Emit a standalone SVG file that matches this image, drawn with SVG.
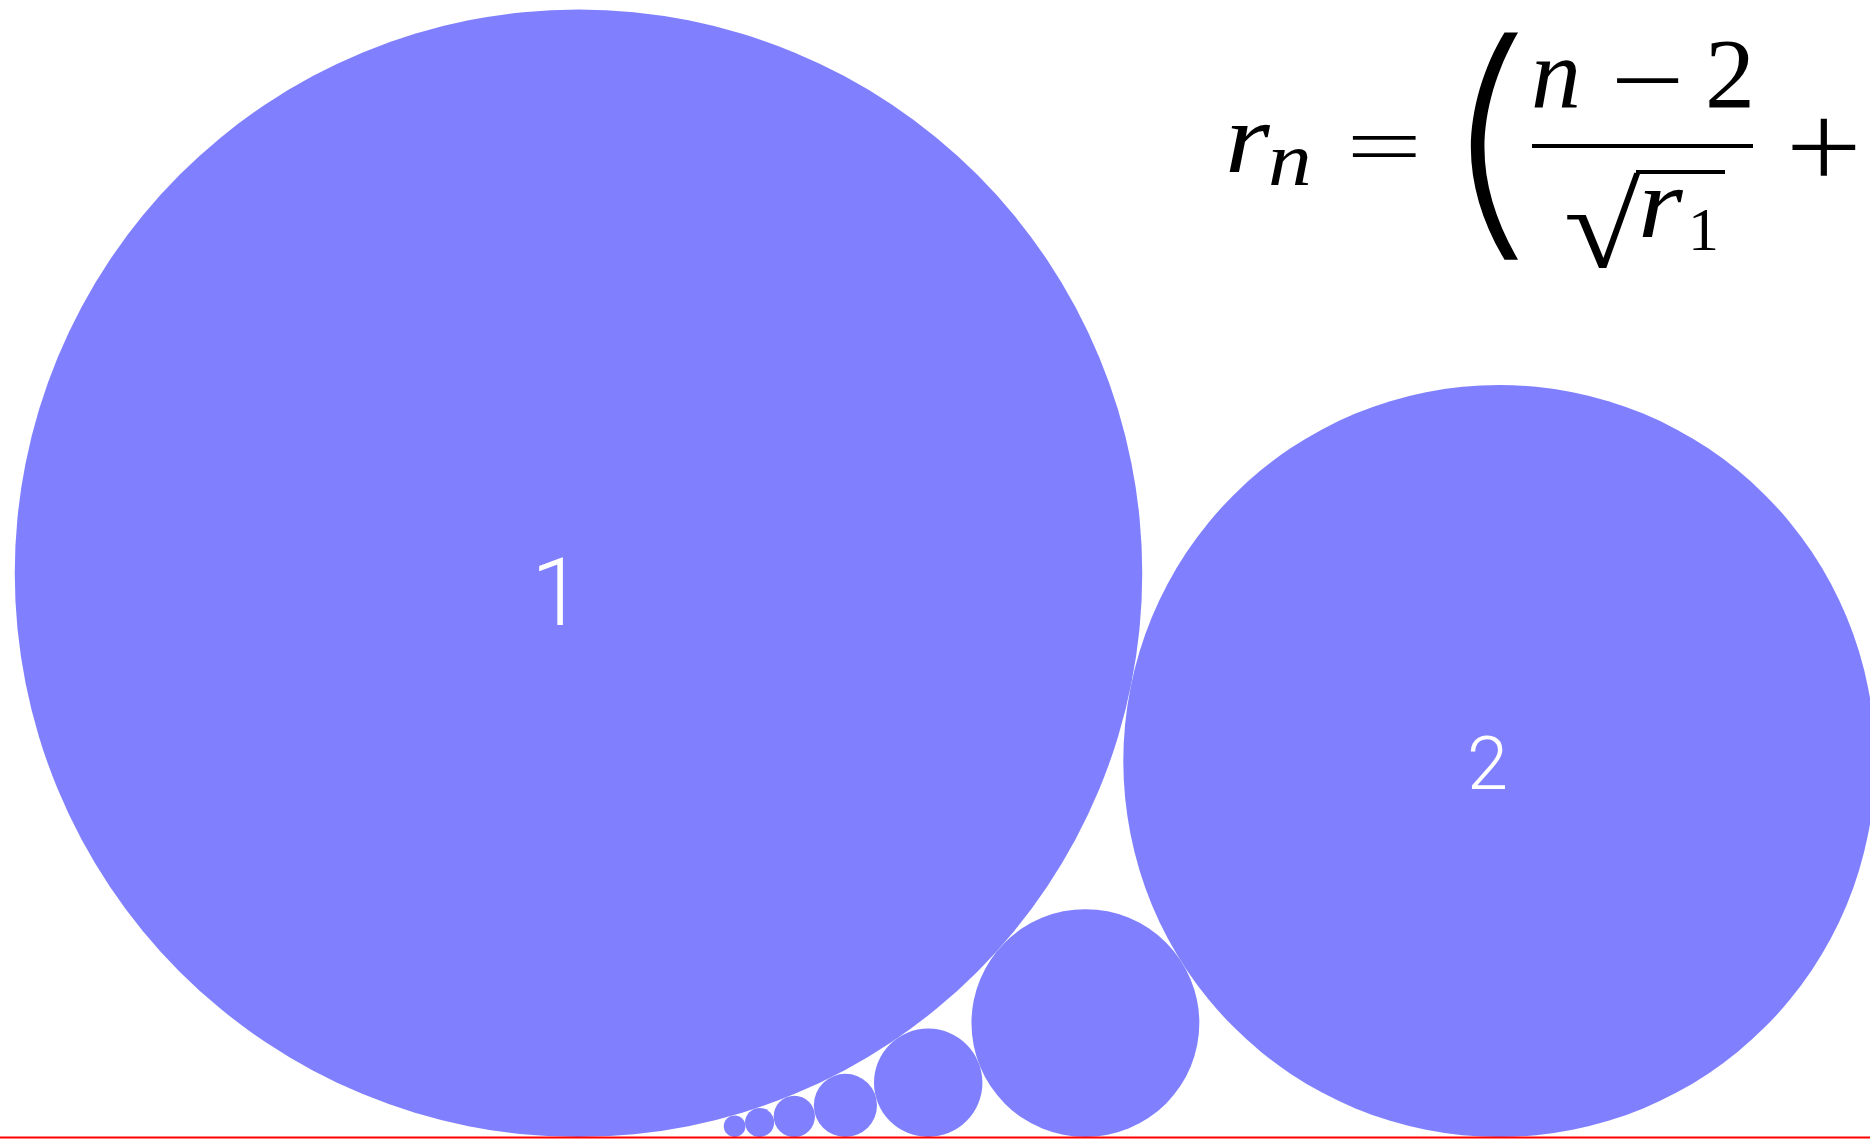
<svg xmlns="http://www.w3.org/2000/svg" width="1870" height="1139" viewBox="0 0 1870 1139">
  <style>
    .c { fill: #8080ff; }
    .lbl { fill: #ffffff; font-family: Roboto, "Liberation Sans", sans-serif; font-weight: 300; }
    .m { fill: #000000; font-family: "Liberation Serif", "DejaVu Serif", serif; }
    .mi { font-style: italic; }
    .op { fill: #000000; font-family: Inter, Roboto, sans-serif; font-weight: 200; }
  </style>
  <rect width="1870" height="1139" fill="#ffffff"/>
  <g id="circle-1">
    <circle class="c" cx="578.5" cy="573.25" r="563.75"/>
    <text class="lbl" x="531" y="625" font-size="94">1</text>
  </g>
  <g id="circle-2">
    <circle class="c" cx="1499.3" cy="761" r="376"/>
    <text class="lbl" x="1467" y="789" font-size="74">2</text>
  </g>
  <g id="circle-3"><circle class="c" cx="1085.4" cy="1023.07" r="113.93"/></g>
  <g id="circle-4"><circle class="c" cx="928.2" cy="1082.78" r="54.22"/></g>
  <g id="circle-5"><circle class="c" cx="845.4" cy="1105.41" r="31.59"/></g>
  <g id="circle-6"><circle class="c" cx="794.3" cy="1116.35" r="20.65"/></g>
  <g id="circle-7"><circle class="c" cx="759.6" cy="1122.45" r="14.55"/></g>
  <g id="circle-8"><circle class="c" cx="734.6" cy="1126.2" r="10.8"/></g>
  <g id="connectors">
    <line x1="0" y1="1137.5" x2="1870" y2="1137.5" stroke="#ff0000" stroke-width="2"/>
  </g>
  <g id="formula">
    <text class="m mi" transform="translate(1225,172) scale(1.15,1)" font-size="100">r</text>
    <text class="m mi" transform="translate(1268,185) scale(1.15,1)" font-size="76">n</text>
    <text class="op" transform="translate(1330,171.7) scale(1.87,1)" font-size="90">=</text>
    <text class="op" transform="translate(1437,225.5) scale(3.0,2.5)" font-size="100">(</text>
    <text class="m mi" x="1531" y="107" font-size="100">n</text>
    <text class="op" transform="translate(1601.4,112) scale(1.3,1)" font-size="110">−</text>
    <text class="m" x="1705" y="107" font-size="100">2</text>
    <rect x="1532" y="144" width="221" height="4" fill="#000"/>
    <text class="m" transform="translate(1563.8,267) scale(1.4,1.195)" font-size="100">√</text>
    <rect x="1636" y="170" width="89" height="4" fill="#000"/>
    <text class="m mi" transform="translate(1638,237) scale(1.15,1)" font-size="100">r</text>
    <text class="m" x="1688" y="250" font-size="62">1</text>
    <text class="op" transform="translate(1777,185.3) scale(1.1,1)" font-size="132">+</text>
  </g>
</svg>
